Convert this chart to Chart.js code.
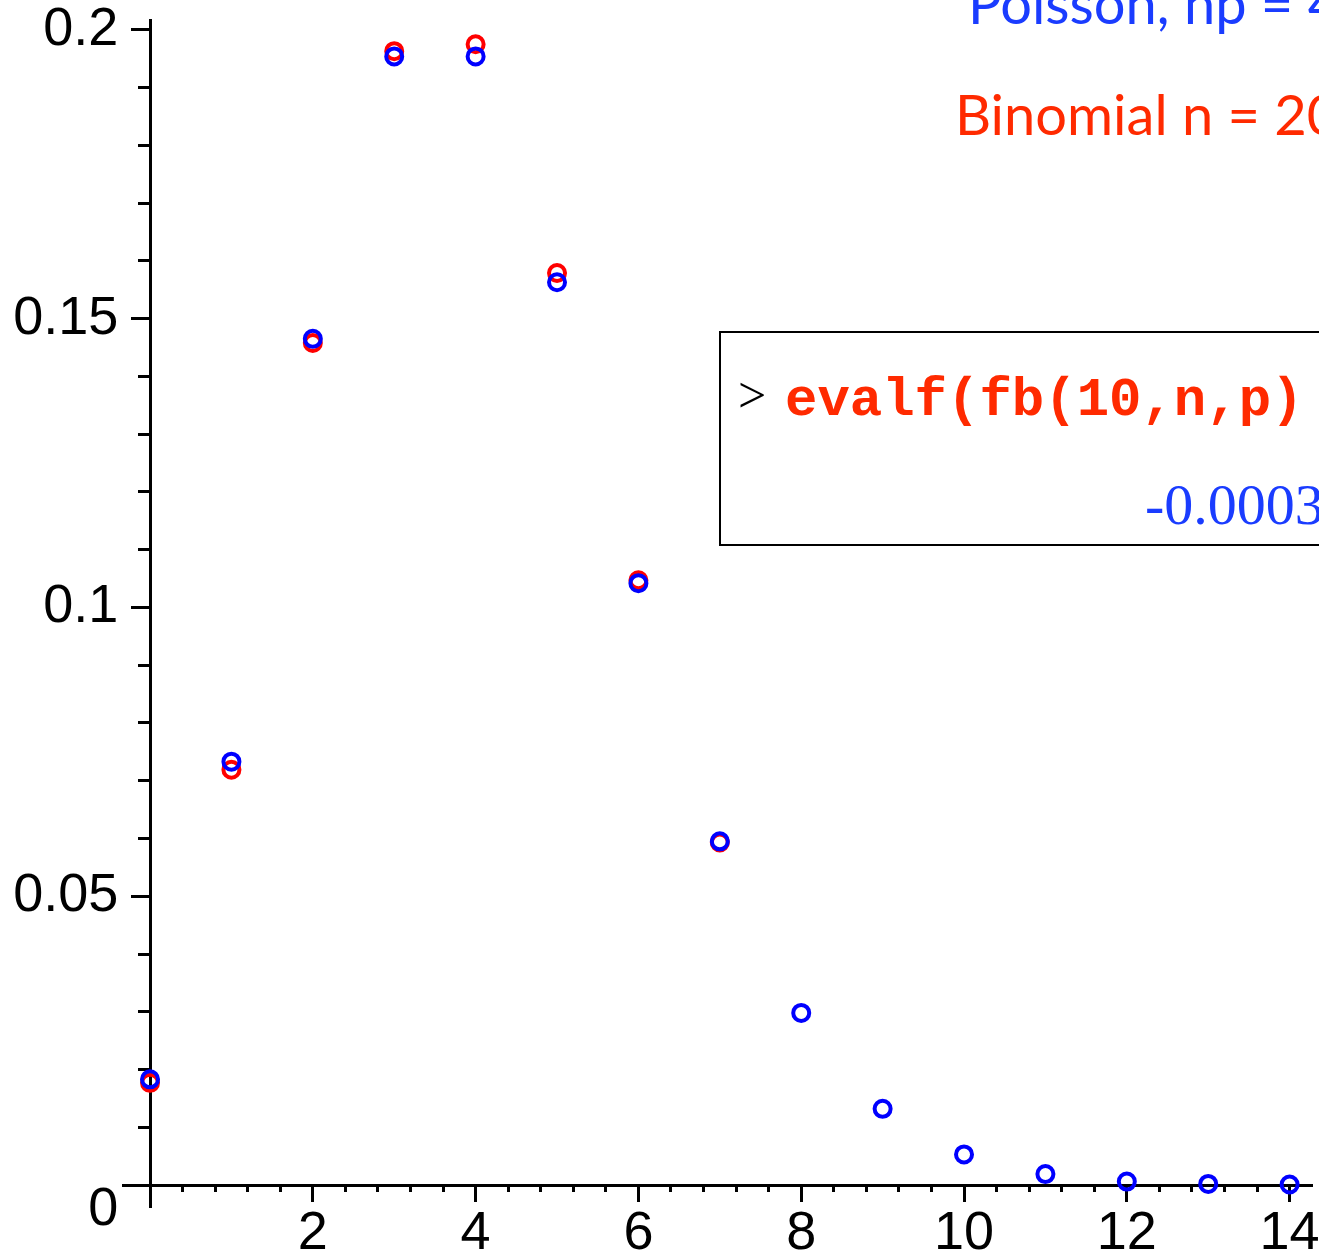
<!DOCTYPE html>
<html>
<head>
<meta charset="utf-8">
<script src="https://cdn.jsdelivr.net/npm/chart.js@4.4.1/dist/chart.umd.min.js"></script>
<style>
  html, body { margin: 0; padding: 0; background: #fff; overflow: hidden; }
  #wrap { position: relative; width: 1319px; height: 1255px; overflow: hidden; background: #fff; }
  #c { position: absolute; left: 0; top: 0; }
  .note { position: absolute; white-space: nowrap; line-height: 1; }
  #poisson { left: 968px; top: -31px; font: 56px Lato, sans-serif; color: #1a3cff; }
  #binom { left: 955px; top: 80px; font: 56px Lato, sans-serif; color: #ff2a00; }
  #box { position: absolute; left: 719px; top: 331px; width: 700px; height: 215px; border: 2px solid #000; box-sizing: border-box; }
  #prompt { left: 738px; top: 366px; font: 50px "Liberation Serif", serif; color: #000; }
  #cmd { left: 785px; top: 370px; font: bold 54px "Liberation Mono", monospace; color: #ff2a00; }
  #result { left: 1145px; top: 471px; font: 58px "Liberation Serif", serif; color: #1a3cff; }
</style>
</head>
<body>
<div id="wrap">
  <canvas id="c" width="1319" height="1255"></canvas>
  <div class="note" id="poisson">Poisson, np = 4</div>
  <div class="note" id="binom">Binomial n = 20</div>
  <div id="box"></div>
  <div class="note" id="prompt">&gt;</div>
  <div class="note" id="cmd">evalf(fb(10,n,p)</div>
  <div class="note" id="result">-0.0003</div>
</div>
<script>
// values
var poissonK = [0, 1, 2, 3, 4, 5, 6, 7, 8, 9, 10, 11, 12, 13, 14];
var poissonP = [0.0183, 0.0733, 0.1465, 0.1954, 0.1954, 0.1563, 0.1042, 0.0595, 0.0298, 0.0132, 0.0053, 0.0019, 0.0006, 0.0002, 0.0001];
var binomK = [0, 1, 2, 3, 4, 5, 6, 7];
var binomP = [0.0177, 0.0719, 0.1458, 0.1963, 0.1975, 0.1579, 0.1047, 0.0593];

var xTicks = [2, 4, 6, 8, 10, 12, 14];
var xTickLabels = ['2', '4', '6', '8', '10', '12', '14'];
var yTicks = [0, 0.05, 0.1, 0.15, 0.2];
var yTickLabels = ['', '0.05', '0.1', '0.15', '0.2'];
var xMinorStep = 0.4;
var yMinorStep = 0.01;

var X_MIN = -0.332, X_MAX = 14.275;
var Y_MIN = -0.0038, Y_MAX = 0.2017;
// where the tick labels sit, in data units
var Y_LABEL_X = -0.39;
var X_LABEL_Y = -0.0028;

function toPoints(xs, ys) {
    return xs.map(function(x, i) { return {x: x, y: ys[i]}; });
}

function stepValues(from, to, step) {
    var out = [];
    for (var i = 0; from + i * step <= to + 1e-9; i++) out.push(+(from + i * step).toFixed(4));
    return out;
}

var tickFont = {family: "'Liberation Sans', Arial, sans-serif", size: 54};

// one scale per tick length / label row, all crossing at the origin
function axisBase(axis, values, tickLen, labels, at) {
    return {
        type: 'linear',
        axis: axis,
        min: axis === 'x' ? X_MIN : Y_MIN,
        max: axis === 'x' ? X_MAX : Y_MAX,
        position: axis === 'x' ? {y: at || 0} : {x: at || 0},
        afterBuildTicks: function(scale) {
            scale.ticks = values.map(function(v) { return {value: v}; });
        },
        // labels may hang outside the plot, don't let them shrink it
        afterFit: function(scale) {
            scale.paddingTop = 0;
            scale.paddingBottom = 0;
            scale.paddingLeft = 0;
            scale.paddingRight = 0;
        },
        grid: {drawOnChartArea: false, drawTicks: !labels, tickLength: tickLen, tickWidth: 3, tickColor: '#000'},
        border: {display: false},
        ticks: {
            display: !!labels,
            autoSkip: false,
            maxRotation: 0,
            color: '#000',
            font: tickFont,
            padding: 0,
            callback: function(v, i) { return labels ? labels[i] : ''; }
        }
    };
}

var xAxis = axisBase('x', xTicks, 15, null);
xAxis.border = {display: true, color: '#000', width: 3};
var yAxis = axisBase('y', yTicks, 18, null);
yAxis.border = {display: true, color: '#000', width: 3};
var yZero = axisBase('y', [0], 0, ['0'], Y_LABEL_X);
yZero.ticks.labelOffset = 25;

var ctx = document.getElementById('c').getContext('2d');
var chart = new Chart(ctx, {
    type: 'scatter',
    data: {
        datasets: [
            {
                label: 'Poisson, np = 4',
                data: toPoints(poissonK, poissonP),
                borderColor: '#0000ff',
                backgroundColor: 'rgba(0,0,0,0)',
                pointRadius: 8,
                pointBorderWidth: 4,
                pointHoverRadius: 8,
                xAxisID: 'x',
                yAxisID: 'y'
            },
            {
                label: 'Binomial',
                data: toPoints(binomK, binomP),
                borderColor: '#ff0000',
                backgroundColor: 'rgba(0,0,0,0)',
                pointRadius: 8,
                pointBorderWidth: 4,
                pointHoverRadius: 8,
                xAxisID: 'x',
                yAxisID: 'y'
            }
        ]
    },
    options: {
        responsive: false,
        animation: false,
        layout: {autoPadding: false, padding: {left: 123, top: 20, right: 7, bottom: 48}},
        plugins: {legend: {display: false}, tooltip: {enabled: false}},
        scales: {
            x: xAxis,
            xMinor: axisBase('x', stepValues(0, 14, xMinorStep), 7, null),
            xLabels: axisBase('x', xTicks, 0, xTickLabels, X_LABEL_Y),
            y: yAxis,
            yMinor: axisBase('y', stepValues(0, 0.2, yMinorStep), 12, null),
            yLabels: axisBase('y', yTicks, 0, yTickLabels, Y_LABEL_X),
            yZero: yZero
        }
    }
});
</script>
</body>
</html>
